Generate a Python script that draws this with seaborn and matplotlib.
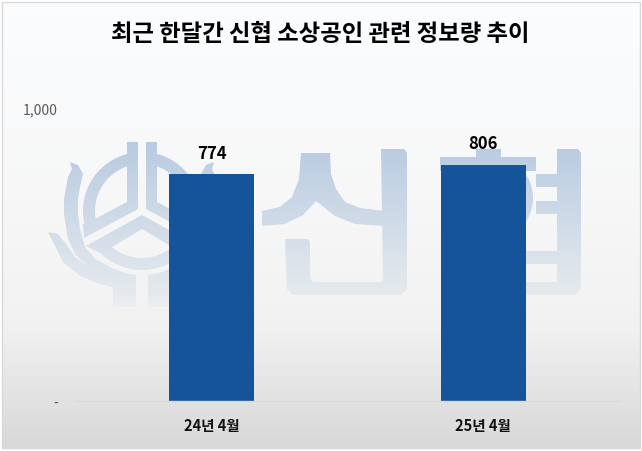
import numpy as np
import matplotlib
matplotlib.use("Agg")
import matplotlib.pyplot as plt
import seaborn as sns
from matplotlib.patches import Polygon, Rectangle

months = ["24년 4월", "25년 4월"]
counts = [774, 806]
y_ticks = [0, 1000]
y_tick_labels = ["-", "1,000"]
title = "최근 한달간 신협 소상공인 관련 정보량 추이"

sns.set_theme(style="white")
plt.rcParams["font.family"] = ["Noto Sans CJK KR", "DejaVu Sans"]

fig = plt.figure(figsize=(6.42, 4.52), dpi=100)

# background layer works in pixel coords of the picture
bg = fig.add_axes([0, 0, 1, 1], zorder=0)
bg.axis("off")

# grey gradient of the chart area
rows = np.arange(3, 450)
grey = np.interp(rows, [3, 200, 300, 330, 449], [251, 247, 243, 241, 216]) / 255
tint = np.interp(rows, [3, 250], [0.012, 0.0])
grad = np.stack([grey, grey + tint * 0.4, grey + tint], axis=1)[:, None, :]
bg.imshow(grad, extent=(2, 640, 449, 3), aspect="auto", zorder=0)
bg.add_patch(Rectangle((2, 3), 638, 446, fill=False, edgecolor="#d9d9d9", lw=1, zorder=3))

# fading blue used by the watermark (opaque so overlaps don't show)
wm_rows = np.arange(143, 312)
wm = np.stack([np.interp(wm_rows, [143, 296, 311], [184, 230, 238]),
               np.interp(wm_rows, [143, 296, 311], [203, 234, 240]),
               np.interp(wm_rows, [143, 296, 311], [225, 238, 243])], axis=1) / 255
wm = wm[:, None, :]


def faded(pts):
    patch = Polygon(pts, closed=True, visible=False)
    bg.add_patch(patch)
    im = bg.imshow(wm, extent=(0, 642, 312, 143), aspect="auto", zorder=1)
    im.set_clip_path(patch.get_path(), patch.get_transform())


def arc_band(c, r_out, r_in, a0, a1):
    # ring piece, angles as seen on screen
    t = np.radians(np.linspace(a0, a1, 60))
    outer = np.c_[c[0] + r_out * np.cos(t), c[1] - r_out * np.sin(t)]
    inner = np.c_[c[0] + r_in * np.cos(t), c[1] - r_in * np.sin(t)]
    return np.vstack([outer, inner[::-1]])


# logo, left half + mirrored right half
cx, cy = 142, 212
logo_left = [
    arc_band((cx, cy), 59, 47, 104, 197),
    arc_band((cx, cy), 59, 47, 222, 270),
    np.array([(127, 143), (138, 143), (138, 210), (127, 210)], float),
    np.array([(95, 220), (127, 203), (138, 210), (84, 239), (83, 225)], float),
    np.array([(142, 216), (86, 247), (100, 254), (112, 248), (142, 230)], float),
    # upper leaf
    np.array([(70, 163), (78, 166), (83, 175), (80, 188), (78, 200), (78, 215),
              (80, 230), (85, 248), (97, 262), (87, 267), (75, 255), (68, 240),
              (64, 215), (64, 200), (68, 178), (72, 170)], float),
    # lower leaf and foot of the logo
    np.array([(48, 233), (58, 235), (66, 245), (75, 258), (87, 267), (97, 261),
              (112, 269), (125, 274), (136, 276), (136, 308), (113, 308), (113, 288),
              (100, 285), (80, 277), (63, 263), (55, 247)], float),
]
for pts in logo_left:
    faded(pts)
    faded(np.c_[2 * cx - pts[:, 0], pts[:, 1]])

# big syllables of the watermark, drawn as a picture like in the original
sin_strokes = [
    [(262, 212), (280, 208), (292, 198), (299, 180), (301, 154), (330, 154), (331, 175),
     (336, 190), (345, 203), (360, 209), (384, 212), (384, 227), (355, 225), (335, 217),
     (316, 202), (303, 216), (285, 225), (262, 227)],
    [(381, 150), (404, 150), (407, 154), (407, 290), (401, 296), (293, 296), (287, 290),
     (285, 240), (308, 240), (310, 243), (310, 279), (313, 283), (383, 283)],
]
hyeop_strokes = [
    [(476, 150), (501, 150), (501, 158), (476, 158)],
    [(440, 158), (536, 158), (536, 172), (440, 172)],
    arc_band((490, 199), 43, 30, -60, 60),
    [(536, 175), (558, 175), (558, 188), (536, 188)],
    [(536, 202), (558, 202), (558, 215), (536, 215)],
    [(557, 150), (578, 150), (581, 154), (581, 290), (575, 296), (557, 296)],
    [(450, 252), (558, 252), (558, 265), (450, 265)],
    [(450, 283), (558, 283), (558, 296), (450, 296)],
]
for pts in sin_strokes + hyeop_strokes:
    faded(np.asarray(pts, float))

bg.set_xlim(0, 642)
bg.set_ylim(452, 0)

# actual chart
ax = fig.add_axes([76 / 642, 50 / 452, 543 / 642, 293 / 452], zorder=2)
ax.patch.set_alpha(0)
sns.barplot(x=months, y=counts, color="#15549a", saturation=1, width=0.3125,
            linewidth=0, ax=ax)
ax.set_xlim(-0.5, 1.5)
ax.set_ylim(0, 1000)
ax.set_yticks(y_ticks)
ax.set_yticklabels(y_tick_labels, fontsize=10, color="#595959")
ax.tick_params(axis="y", length=0, pad=13)
ax.tick_params(axis="x", length=0, pad=11.5)
for lab in ax.get_xticklabels():
    lab.set_fontsize(10.5)
    lab.set_fontweight("bold")
    lab.set_color("#111111")
for side in ("top", "left", "right"):
    ax.spines[side].set_visible(False)
ax.spines["bottom"].set_color("#d9d9d9")
ax.spines["bottom"].set_linewidth(1)
ax.set_xlabel("")
ax.set_ylabel("")
ax.bar_label(ax.containers[0], labels=[str(v) for v in counts], padding=9,
             fontsize=12, fontweight="bold", color="black")

fig.text(320 / 642, 1 - 34 / 452, title, ha="center", va="center",
         fontsize=16.8, fontweight="bold", color="black", zorder=5)

fig.savefig("out.png", dpi=100)
